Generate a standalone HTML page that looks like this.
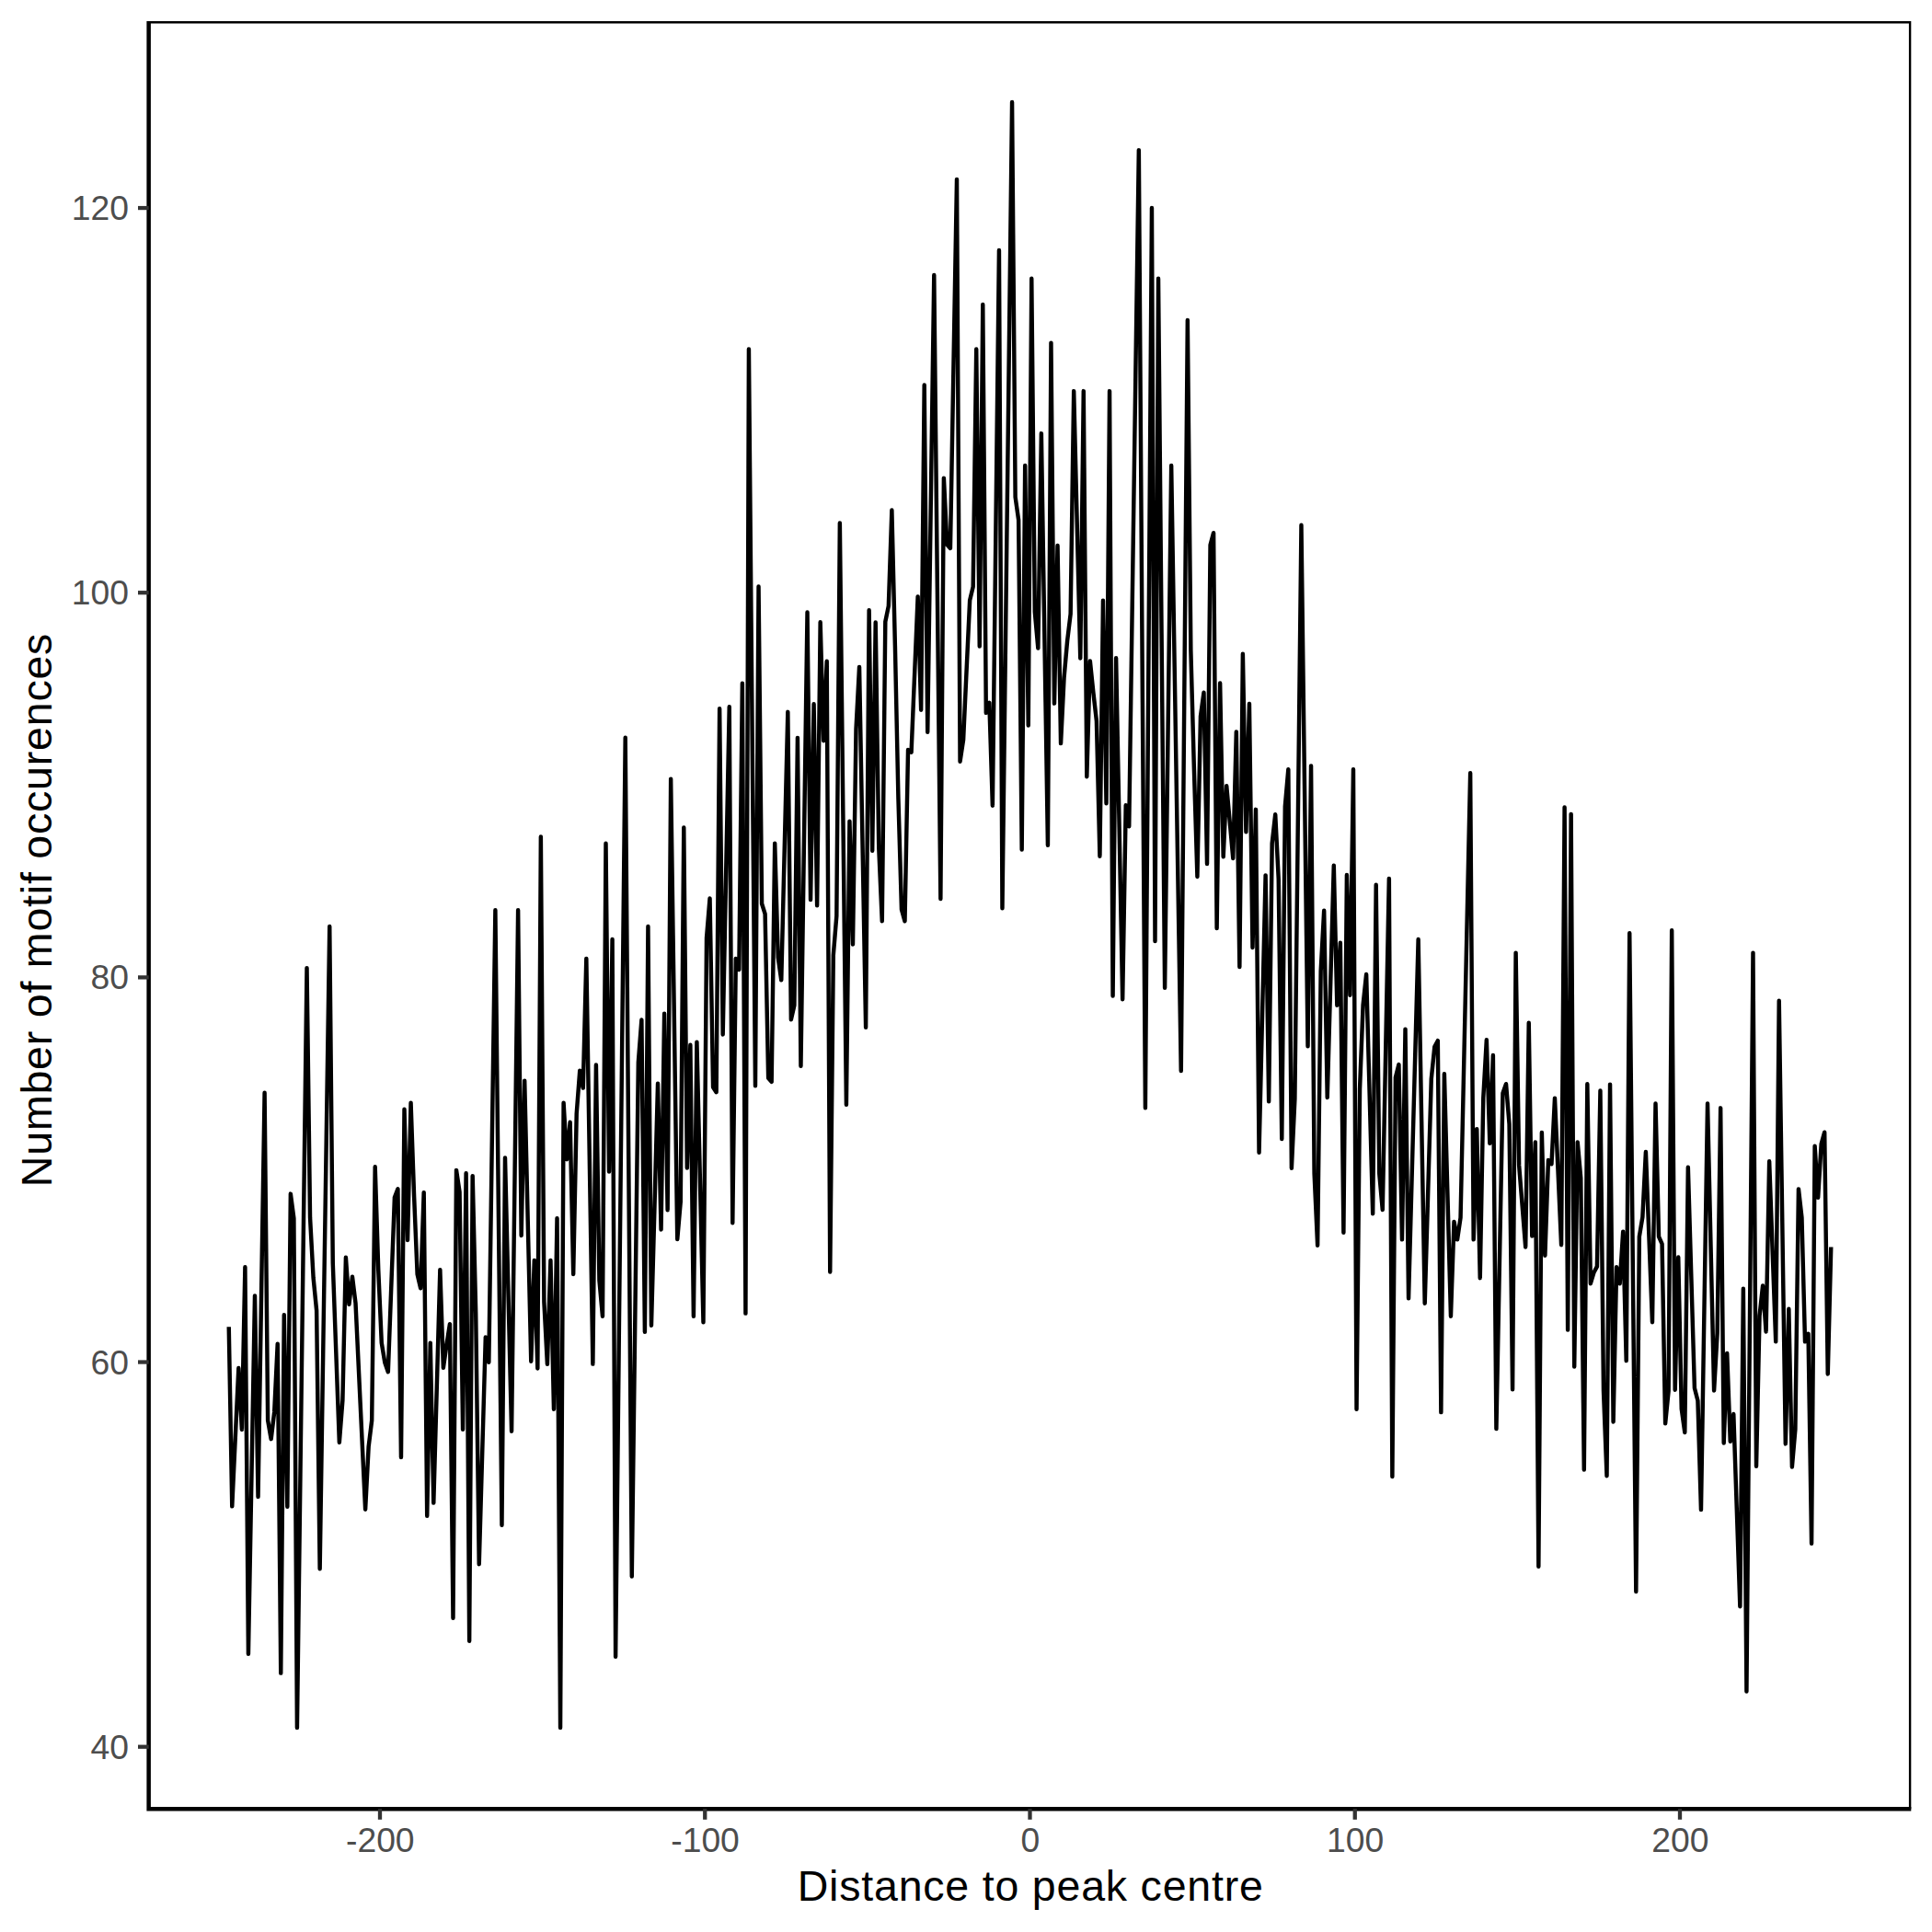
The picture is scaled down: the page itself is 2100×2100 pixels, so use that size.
<!DOCTYPE html><html><head><meta charset="utf-8"><title>Motif occurrences</title>
<style>html,body{margin:0;padding:0;background:#fff}svg{display:block}text{font-family:"Liberation Sans",sans-serif}</style></head><body>
<svg width="2100" height="2100" viewBox="0 0 2100 2100">
<rect width="2100" height="2100" fill="#fff"/>
<polyline fill="none" stroke="#000" stroke-width="4.45" stroke-linejoin="round" stroke-linecap="butt" points="248.74,1442.28 252.27,1637.35 255.81,1562.19 259.34,1487.02 262.87,1553.93 266.40,1377.25 269.94,1797.71 273.47,1603.06 277.00,1408.41 280.53,1626.90 284.06,1407.36 287.60,1187.83 291.13,1543.89 294.66,1564.17 298.19,1534.69 301.73,1460.68 305.26,1818.62 308.79,1429.32 312.32,1637.77 315.86,1297.60 319.39,1324.36 322.92,1878.00 326.46,1602.71 329.99,1327.43 333.52,1052.14 337.05,1323.73 340.59,1388.75 344.12,1424.51 347.65,1705.30 351.18,1472.53 354.72,1239.74 358.25,1006.97 361.78,1373.28 365.31,1470.50 368.85,1567.94 372.38,1522.36 375.91,1366.80 379.44,1417.82 382.98,1387.71 386.51,1416.56 390.04,1491.41 393.57,1565.84 397.11,1640.70 400.64,1572.54 404.17,1543.89 407.70,1268.32 411.24,1380.18 414.77,1459.63 418.30,1480.96 421.83,1491.20 425.37,1396.07 428.90,1301.57 432.43,1292.37 435.96,1584.03 439.50,1205.81 443.03,1347.98 446.56,1198.70 450.09,1299.89 453.62,1384.99 457.16,1400.25 460.69,1296.13 464.22,1647.80 467.75,1459.63 471.29,1633.59 474.82,1506.88 478.35,1380.18 481.88,1486.81 485.42,1461.72 488.95,1439.14 492.48,1758.83 496.01,1271.88 499.55,1295.50 503.08,1553.72 506.61,1275.22 510.15,1783.71 513.68,1278.15 517.21,1428.27 520.74,1700.28 524.28,1576.51 527.81,1453.36 531.34,1480.75 534.87,1234.98 538.40,989.20 541.94,1323.52 545.47,1657.84 549.00,1258.50 552.54,1407.15 556.07,1555.81 559.60,1272.51 563.13,989.20 566.66,1342.97 570.20,1174.66 573.73,1327.18 577.26,1479.70 580.80,1369.94 584.33,1487.44 587.86,909.54 591.39,1415.10 594.92,1482.84 598.46,1369.94 601.99,1531.76 605.52,1324.15 609.06,1878.00 612.59,1198.70 616.12,1260.17 619.65,1219.61 623.18,1384.99 626.72,1210.41 630.25,1163.78 633.78,1182.60 637.32,1041.89 640.85,1262.26 644.38,1482.63 647.91,1157.51 651.45,1391.89 654.98,1430.78 658.51,916.65 662.04,1273.55 665.58,1020.98 669.11,1800.85 672.64,1467.79 676.17,1134.72 679.71,801.66 683.24,1257.56 686.77,1713.46 690.30,1434.12 693.84,1154.58 697.37,1108.59 700.90,1447.71 704.43,1006.97 707.97,1440.81 711.50,1310.35 715.03,1177.79 718.56,1336.48 722.10,1101.69 725.63,1315.16 729.16,846.61 732.69,1096.77 736.23,1346.94 739.76,1306.38 743.29,899.51 746.82,1269.58 750.36,1135.77 753.89,1430.78 757.42,1132.63 760.95,1284.95 764.49,1437.26 768.02,1019.52 771.55,976.45 775.08,1181.76 778.62,1187.20 782.15,770.30 785.68,1124.48 789.21,946.34 792.75,768.20 796.28,1329.17 799.81,1041.89 803.34,1054.02 806.88,742.70 810.41,1427.64 813.94,379.52 817.47,779.91 821.00,1180.30 824.54,637.53 828.07,982.30 831.60,993.38 835.13,1171.73 838.67,1175.91 842.20,916.65 845.73,1040.64 849.26,1065.31 852.80,919.58 856.33,773.85 859.86,1108.17 863.40,1092.70 866.93,801.87 870.46,1158.77 873.99,912.16 877.53,665.55 881.06,977.91 884.59,765.28 888.12,984.18 891.66,676.21 895.19,805.21 898.72,718.65 902.25,1382.48 905.79,1038.34 909.32,995.68 912.85,568.53 916.38,884.66 919.92,1200.79 923.45,892.61 926.98,1026.42 930.51,792.67 934.05,724.92 937.58,920.83 941.11,1116.74 944.64,663.25 948.18,924.81 951.71,676.42 955.24,920.83 958.77,1001.33 962.31,675.79 965.84,658.65 969.37,554.52 972.90,701.72 976.44,867.94 979.97,988.57 983.50,1001.33 987.03,815.04 990.57,817.76 994.10,733.08 997.63,648.40 1001.16,771.76 1004.70,418.41 1008.23,795.80 1011.76,547.42 1015.29,299.03 1018.83,638.05 1022.36,977.08 1025.89,519.61 1029.42,591.95 1032.95,595.92 1036.49,395.41 1040.02,194.91 1043.55,827.79 1047.09,804.17 1050.62,727.85 1054.15,652.58 1057.68,637.74 1061.22,379.52 1064.75,702.55 1068.28,331.02 1071.81,774.89 1075.35,763.81 1078.88,875.67 1082.41,573.86 1085.94,272.06 1089.47,987.32 1093.01,695.24 1096.54,403.15 1100.07,111.07 1103.61,540.31 1107.14,565.19 1110.67,923.55 1114.20,506.02 1117.74,788.49 1121.27,302.79 1124.80,665.13 1128.33,704.64 1131.87,471.10 1135.40,694.92 1138.93,918.74 1142.46,372.63 1145.99,764.65 1149.53,593.00 1153.06,808.14 1156.59,736.22 1160.12,696.49 1163.66,667.22 1167.19,425.10 1170.72,570.41 1174.26,715.52 1177.79,425.10 1181.32,844.31 1184.85,718.44 1188.39,752.73 1191.92,783.68 1195.45,930.66 1198.98,652.79 1202.52,873.16 1206.05,425.10 1209.58,1082.45 1213.11,715.31 1216.64,900.76 1220.18,1086.22 1223.71,875.25 1227.24,898.25 1230.78,653.21 1234.31,408.17 1237.84,163.13 1241.37,683.74 1244.91,1204.35 1248.44,715.20 1251.97,226.06 1255.50,1023.07 1259.04,302.79 1262.57,688.23 1266.10,1073.67 1269.63,789.84 1273.16,506.02 1276.70,725.34 1280.23,944.67 1283.76,1163.99 1287.30,755.97 1290.83,347.95 1294.36,706.94 1297.89,835.74 1301.42,953.03 1304.96,778.45 1308.49,752.73 1312.02,939.02 1315.56,592.37 1319.09,579.20 1322.62,1009.06 1326.15,742.49 1329.69,931.29 1333.22,854.14 1336.75,893.65 1340.28,932.96 1343.82,795.38 1347.35,1051.09 1350.88,710.71 1354.41,904.32 1357.95,764.86 1361.48,1029.97 1365.01,879.85 1368.54,1252.85 1372.08,1102.11 1375.61,951.36 1379.14,1197.24 1382.67,916.65 1386.21,885.29 1389.74,955.75 1393.27,1238.01 1396.80,876.72 1400.34,836.16 1403.87,1269.79 1407.40,1194.52 1410.93,882.78 1414.47,570.83 1418.00,854.03 1421.53,1137.23 1425.06,832.39 1428.60,1275.43 1432.13,1353.84 1435.66,1055.27 1439.19,989.83 1442.73,1193.05 1446.26,1066.88 1449.79,940.70 1453.32,1092.70 1456.86,1024.75 1460.39,1339.83 1463.92,950.94 1467.45,1081.82 1470.99,836.16 1474.52,1531.76 1478.05,1183.65 1481.58,1092.49 1485.12,1059.03 1488.65,1189.19 1492.18,1319.34 1495.71,961.81 1499.25,1275.43 1502.78,1314.95 1506.31,1134.93 1509.84,954.91 1513.38,1604.94 1516.91,1171.10 1520.44,1157.09 1523.97,1347.36 1527.51,1118.62 1531.04,1411.33 1534.57,1281.22 1538.10,1151.09 1541.63,1020.98 1545.17,1218.88 1548.70,1416.77 1552.23,1294.88 1555.77,1172.77 1559.30,1137.86 1562.83,1131.17 1566.36,1535.11 1569.89,1167.34 1573.43,1299.06 1576.96,1430.78 1580.49,1327.91 1584.03,1347.36 1587.56,1323.52 1591.09,1162.47 1594.62,1001.39 1598.15,840.34 1601.69,1347.36 1605.22,1227.14 1608.75,1389.17 1612.29,1193.05 1615.82,1130.33 1619.35,1242.82 1622.88,1147.06 1626.42,1553.09 1629.95,1370.67 1633.48,1188.25 1637.01,1178.21 1640.55,1221.70 1644.08,1510.23 1647.61,1035.62 1651.14,1266.65 1654.68,1310.98 1658.21,1355.51 1661.74,1111.72 1665.27,1343.59 1668.81,1241.56 1672.34,1702.79 1675.87,1230.90 1679.40,1364.71 1682.94,1261.01 1686.47,1265.19 1690.00,1193.68 1693.53,1273.45 1697.07,1353.21 1700.60,877.55 1704.13,1445.41 1707.66,884.87 1711.20,1485.56 1714.73,1241.56 1718.26,1280.45 1721.79,1597.42 1725.33,1178.21 1728.86,1395.24 1732.39,1383.32 1735.92,1376.63 1739.46,1185.53 1742.99,1511.90 1746.52,1604.32 1750.05,1178.63 1753.59,1545.56 1757.12,1377.25 1760.65,1395.24 1764.18,1338.78 1767.72,1479.08 1771.25,1014.29 1774.78,1372.03 1778.31,1729.97 1781.85,1344.01 1785.38,1322.89 1788.91,1252.02 1792.44,1344.64 1795.98,1437.26 1799.51,1199.54 1803.04,1344.01 1806.57,1352.16 1810.11,1547.24 1813.64,1511.90 1817.17,1011.16 1820.70,1510.65 1824.24,1366.59 1827.77,1531.56 1831.30,1557.06 1834.83,1268.74 1838.37,1388.75 1841.90,1508.77 1845.43,1522.57 1848.96,1641.11 1852.50,1420.32 1856.03,1199.54 1859.56,1355.51 1863.09,1511.48 1866.62,1449.18 1870.16,1204.35 1873.69,1568.56 1877.22,1470.92 1880.76,1566.89 1884.29,1536.99 1887.82,1641.53 1891.35,1746.28 1894.88,1400.67 1898.42,1838.48 1901.95,1437.05 1905.48,1035.62 1909.02,1593.65 1912.55,1430.36 1916.08,1397.54 1919.61,1447.51 1923.15,1262.26 1926.68,1360.32 1930.21,1458.38 1933.74,1087.68 1937.28,1328.54 1940.81,1569.40 1944.34,1422.83 1947.87,1594.49 1951.41,1553.51 1954.94,1292.37 1958.47,1323.52 1962.00,1458.38 1965.54,1449.81 1969.07,1677.70 1972.60,1245.74 1976.13,1301.78 1979.67,1243.44 1983.20,1230.69 1986.73,1493.50 1990.26,1355.51"/>
<path d="M161.65,24.2 H2076.1 V1966.25" fill="none" stroke="#000" stroke-width="2.4"/>
<path d="M161.65,23.0 V1968.55 M159.4,1966.25 H2077.2999999999997" fill="none" stroke="#000" stroke-width="4.5"/>
<line x1="150" x2="161.65" y1="1898.70" y2="1898.70" stroke="#333" stroke-width="4.3"/>
<text x="139.9" y="1911.80" text-anchor="end" font-size="37.3" fill="#4d4d4d">40</text>
<line x1="150" x2="161.65" y1="1480.54" y2="1480.54" stroke="#333" stroke-width="4.3"/>
<text x="139.9" y="1493.64" text-anchor="end" font-size="37.3" fill="#4d4d4d">60</text>
<line x1="150" x2="161.65" y1="1062.38" y2="1062.38" stroke="#333" stroke-width="4.3"/>
<text x="139.9" y="1075.48" text-anchor="end" font-size="37.3" fill="#4d4d4d">80</text>
<line x1="150" x2="161.65" y1="644.22" y2="644.22" stroke="#333" stroke-width="4.3"/>
<text x="139.9" y="657.32" text-anchor="end" font-size="37.3" fill="#4d4d4d">100</text>
<line x1="150" x2="161.65" y1="226.06" y2="226.06" stroke="#333" stroke-width="4.3"/>
<text x="139.9" y="239.16" text-anchor="end" font-size="37.3" fill="#4d4d4d">120</text>
<line x1="413.00" x2="413.00" y1="1966.25" y2="1977.8" stroke="#333" stroke-width="4.3"/>
<text x="413.30" y="2013.1" text-anchor="middle" font-size="37.3" fill="#4d4d4d">-200</text>
<line x1="766.25" x2="766.25" y1="1966.25" y2="1977.8" stroke="#333" stroke-width="4.3"/>
<text x="766.55" y="2013.1" text-anchor="middle" font-size="37.3" fill="#4d4d4d">-100</text>
<line x1="1119.50" x2="1119.50" y1="1966.25" y2="1977.8" stroke="#333" stroke-width="4.3"/>
<text x="1119.80" y="2013.1" text-anchor="middle" font-size="37.3" fill="#4d4d4d">0</text>
<line x1="1472.75" x2="1472.75" y1="1966.25" y2="1977.8" stroke="#333" stroke-width="4.3"/>
<text x="1473.05" y="2013.1" text-anchor="middle" font-size="37.3" fill="#4d4d4d">100</text>
<line x1="1826.00" x2="1826.00" y1="1966.25" y2="1977.8" stroke="#333" stroke-width="4.3"/>
<text x="1826.30" y="2013.1" text-anchor="middle" font-size="37.3" fill="#4d4d4d">200</text>
<text x="1120.2" y="2066.1" text-anchor="middle" font-size="46.5" letter-spacing="0.8" fill="#000">Distance to peak centre</text>
<text transform="translate(56.2,989) rotate(-90)" text-anchor="middle" font-size="46.5" letter-spacing="0.8" fill="#000">Number of motif occurences</text>
</svg></body></html>
